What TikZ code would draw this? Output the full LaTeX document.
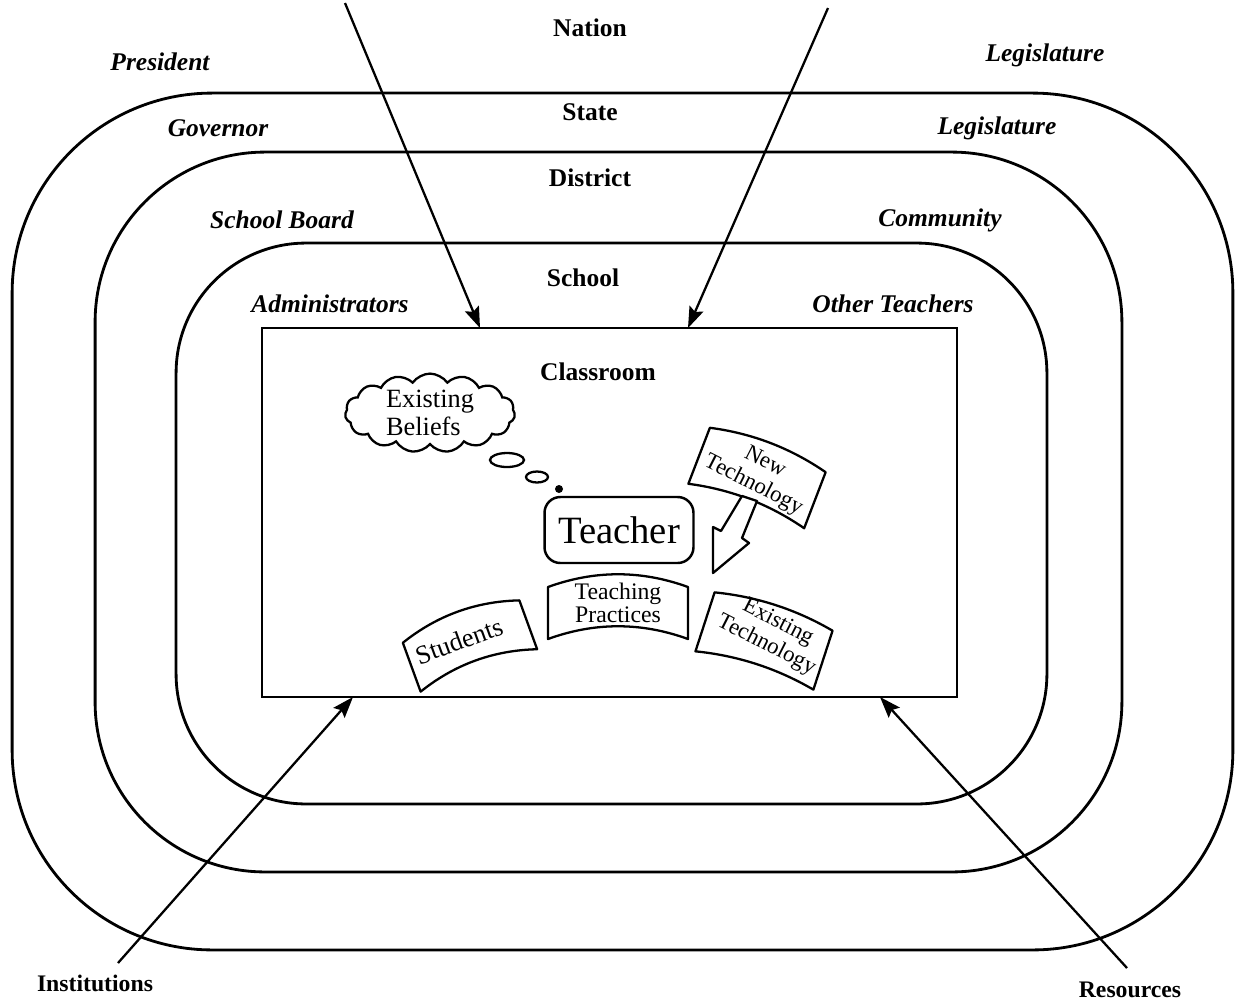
\documentclass[tikz,border=0pt]{standalone}
\usepackage{fontspec}
\setmainfont{Liberation Serif}
\usetikzlibrary{arrows.meta, shapes.geometric, shapes.symbols}

\tikzset{
  ringbox/.style={draw, line width=1.6pt, inner sep=0pt},
  levelname/.style={font=\fontsize{14.5}{16}\selectfont\bfseries},
  actor/.style={font=\fontsize{14.5}{16}\selectfont\bfseries\itshape},
  bannerline/.style={line width=1.3pt, line join=round, fill=white},
  bannertext/.style={font=\fontsize{14}{13.5}\selectfont, align=center, inner sep=0pt},
  techtext/.style={bannertext, font=\fontsize{13}{14.5}\selectfont},
  influence/.style={line width=1.3pt, -{Stealth[length=12pt, width=8.5pt, inset=2pt]}},
  pics/banner/.style n args={3}{code={
    \draw[bannerline] (-#1/2,-#2/2) .. controls (-#1/6,-#2/2-#3) and (#1/6,-#2/2-#3) .. (#1/2,-#2/2)
      -- (#1/2,#2/2) .. controls (#1/6,#2/2-#3) and (-#1/6,#2/2-#3) .. (-#1/2,#2/2) -- cycle;
  }}
}

\begin{document}
\begin{tikzpicture}[x=0.02cm, y=-0.02cm]
\useasboundingbox (0,0) rectangle (1241,1002);

% Nested levels
\node[ringbox, rounded corners=4cm, minimum width=24.42cm, minimum height=17.14cm] (state) at (622.5,521.5) {};
\node[ringbox, rounded corners=3.4cm, minimum width=20.54cm, minimum height=14.4cm] (district) at (608.5,512) {};
\node[ringbox, rounded corners=2.6cm, minimum width=17.42cm, minimum height=11.22cm] (school) at (611.5,523.5) {};
\node[draw, line width=1.2pt, inner sep=0pt, minimum width=13.9cm, minimum height=7.38cm] (classroom) at (609.5,512.5) {};

% Level names
\node[levelname] (nation) at (590,28) {Nation};
\node[levelname] (statename) at (590,112) {State};
\node[levelname] (districtname) at (590,178) {District};
\node[levelname] (schoolname) at (583,278) {School};
\node[levelname] (classname) at (598,372) {Classroom};

% Actors at each level
\node[actor] (president) at (160,62) {President};
\node[actor] (natlegis) at (1045,55) {Legislature};
\node[actor] (governor) at (218,128) {Governor};
\node[actor] (statelegis) at (997,128) {Legislature};
\node[actor] (board) at (282,220) {School Board};
\node[actor] (community) at (940,220) {Community};
\node[actor] (admins) at (330,304) {Administrators};
\node[actor] (teachers) at (893,304) {Other Teachers};

% Outside influences
\coordinate (inflA) at (345,3);
\coordinate (inflB) at (828,8);
\coordinate (inflC) at (118,963);
\coordinate (inflD) at (1127,968);
\coordinate (hitA) at (480,328);
\coordinate (hitB) at (688,328);
\coordinate (hitC) at (353,697);
\coordinate (hitD) at (880,697);
\draw[influence] (inflA) -- (hitA);
\draw[influence] (inflB) -- (hitB);
\draw[influence] (inflC) -- (hitC);
\draw[influence] (inflD) -- (hitD);
\node[levelname, font=\fontsize{13.5}{15}\selectfont\bfseries] (institutions) at (95,983) {Institutions};
\node[levelname, font=\fontsize{13.5}{15}\selectfont\bfseries] (resources) at (1130,990) {Resources};

% Teacher and beliefs
\node[draw, rounded corners=9pt, line width=1.4pt, minimum width=2.98cm, minimum height=1.32cm,
  font=\fontsize{22}{24}\selectfont] (teacher) at (619,530) {Teacher};
\node[cloud, draw, line width=1.3pt, cloud puffs=15, cloud puff arc=110, aspect=2.2,
  minimum width=3.4cm, minimum height=1.5cm, inner sep=0pt, align=left,
  font=\fontsize{15}{16}\selectfont] (beliefs) at (430,413) {Existing\\Beliefs};
\node[draw, ellipse, line width=1.3pt, minimum width=0.68cm, minimum height=0.28cm, inner sep=0pt] (bubA) at (507,460) {};
\node[draw, ellipse, line width=1.3pt, minimum width=0.44cm, minimum height=0.22cm, inner sep=0pt] (bubB) at (537,477) {};
\node[circle, fill, inner sep=0pt, minimum size=0.16cm] (bubC) at (559,489) {};

% Banners
\pic[rotate=20] at (470,646) {banner={124}{52}{14}};
\node[bannertext, font=\fontsize{15}{14}\selectfont, rotate=20] (students) at (459,641) {Students};
\pic at (618,613) {banner={140}{52}{17}};
\node[bannertext, font=\fontsize{13.5}{13}\selectfont] (practices) at (618,603) {Teaching\\Practices};
\pic[rotate=-18] at (764,641) {banner={124}{62}{9}};
\node[techtext, rotate=-27] (oldtech) at (772,634) {Existing\\Technology};
\pic[rotate=-21] at (757,478) {banner={124}{60}{10}};
\node[techtext, rotate=-27] (newtech) at (759,474) {New\\Technology};

% New technology pushes in
\draw[bannerline] (742,496) -- (757,501) -- (742,538) -- (749,543) -- (713,573) -- (713,527) -- (721,531) -- cycle;
\end{tikzpicture}
\end{document}
